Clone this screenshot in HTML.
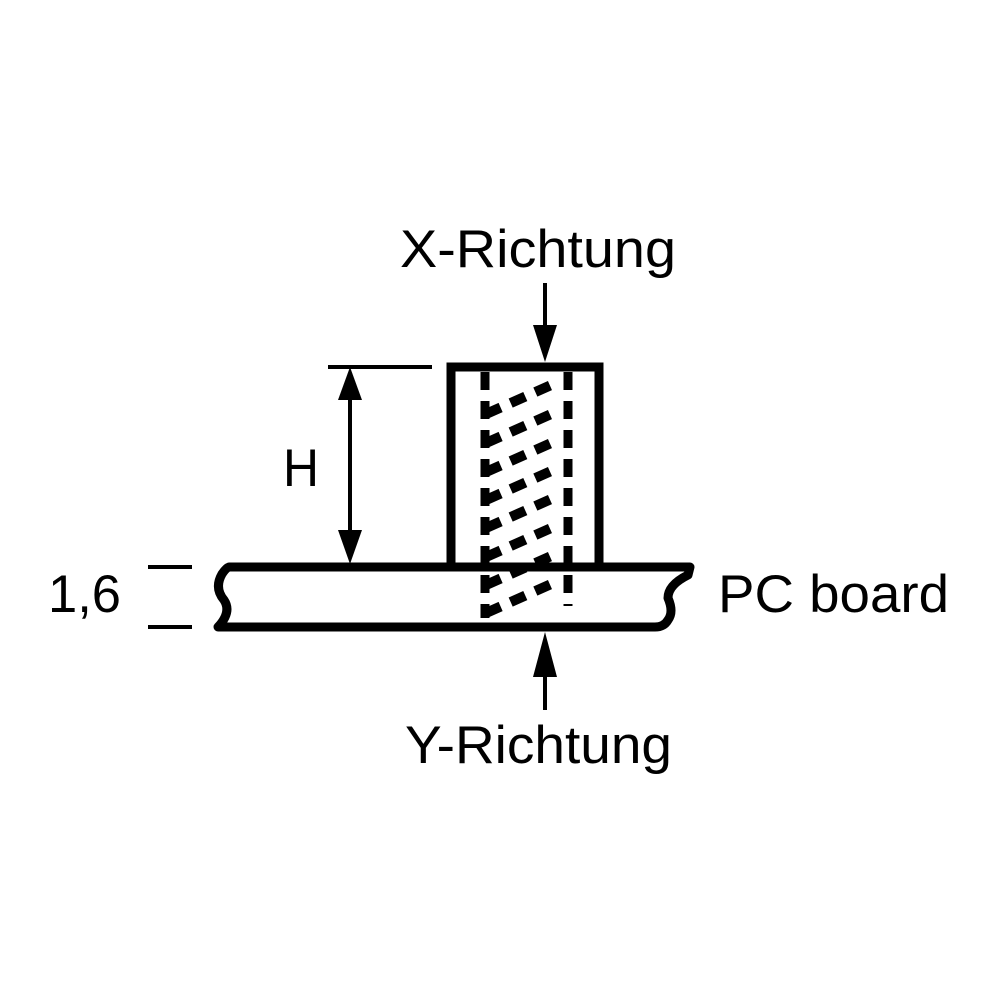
<!DOCTYPE html>
<html><head><style>html,body{margin:0;padding:0;background:#fff}svg{display:block}</style></head>
<body>
<svg width="1000" height="1000" viewBox="0 0 1000 1000" xmlns="http://www.w3.org/2000/svg">
<rect width="1000" height="1000" fill="#fff"/>
<g font-family="Liberation Sans, Arial, sans-serif" font-size="53" fill="#000">
<text x="400" y="267" textLength="276" lengthAdjust="spacingAndGlyphs">X-Richtung</text>
<text x="405" y="763" textLength="267" lengthAdjust="spacingAndGlyphs">Y-Richtung</text>
<text x="283" y="486" textLength="36" lengthAdjust="spacingAndGlyphs">H</text>
<text x="48" y="612" textLength="73" lengthAdjust="spacingAndGlyphs">1,6</text>
<text x="718" y="612" textLength="231" lengthAdjust="spacingAndGlyphs">PC board</text>
</g>
<g stroke="#000" fill="none">
<path d="M451 567 V367 H599 V567" stroke-width="9"/>
<path d="M229 567 H690 L688 575 Q668 585 668 598 Q674 612 668 620 Q664 627 655 627 H218 Q232 612 224 600 Q214 588 222 574 Q226 568 229 567 Z" stroke-width="9" stroke-linejoin="round"/>
<line x1="485" y1="372" x2="485" y2="618" stroke-width="9" stroke-dasharray="18,11"/>
<line x1="568" y1="372" x2="568" y2="606" stroke-width="9" stroke-dasharray="18,11"/>
<line x1="328" y1="367" x2="432" y2="367" stroke-width="4"/>
<line x1="350" y1="395" x2="350" y2="535" stroke-width="4"/>
<line x1="148" y1="567" x2="192" y2="567" stroke-width="4"/>
<line x1="148" y1="627" x2="192" y2="627" stroke-width="4"/>
<line x1="545" y1="283" x2="545" y2="330" stroke-width="4"/>
<line x1="545" y1="670" x2="545" y2="710" stroke-width="4"/>
</g>
<g fill="#000">
<polygon points="350,367 338,400 362,400"/>
<polygon points="350,564 338,530 362,530"/>
<polygon points="545,362 533,325 557,325"/>
<polygon points="545,632 533,677 557,677"/>
</g>
<g stroke="#000" stroke-width="10" fill="none">
<path d="M486 414 L558 382" stroke-dasharray="16,11"/>
<path d="M486 443 L558 411" stroke-dasharray="16,11"/>
<path d="M486 472 L558 440" stroke-dasharray="16,11"/>
<path d="M486 500 L558 468" stroke-dasharray="16,11"/>
<path d="M486 528 L558 496" stroke-dasharray="16,11"/>
<path d="M486 557 L558 525" stroke-dasharray="16,11"/>
<path d="M486 585 L558 553" stroke-dasharray="16,11"/>
<path d="M486 613 L558 581" stroke-dasharray="16,11"/>
</g>
</svg>
</body></html>
